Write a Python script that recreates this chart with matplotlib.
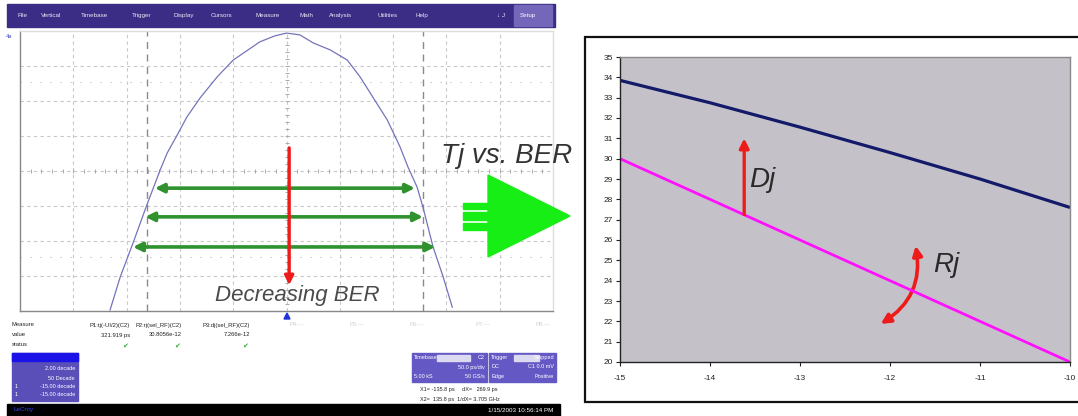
import numpy as np
import matplotlib.pyplot as plt
from matplotlib.patches import Rectangle, Polygon, FancyArrowPatch

# ---- right chart: jitter (ps) vs log10(BER) ----
log_ber = [-15, -14, -13, -12, -11, -10]
tj_ps = [33.85, 32.75, 31.55, 30.3, 29.0, 27.6]
rj_ps = [30.0, 28.0, 26.0, 24.0, 22.0, 20.0]
y_ticks = list(range(20, 36))

# ---- scope trace (histogram-like), in screen divisions ----
scope_x = [1.69, 1.88, 2.12, 2.38, 2.63, 2.76, 2.95, 3.13, 3.38, 3.70, 4.00, 4.50, 4.78, 5.00,
           5.25, 5.50, 5.82, 6.14, 6.38, 6.62, 6.89, 7.13, 7.28, 7.45, 7.56, 7.75, 7.94, 8.11]
scope_y = [0.03, 0.97, 1.94, 3.03, 4.03, 4.51, 5.03, 5.54, 6.09, 6.69, 7.17, 7.69, 7.86, 7.94,
           7.89, 7.66, 7.46, 7.17, 6.69, 6.11, 5.46, 4.69, 4.11, 3.54, 2.97, 1.83, 0.97, 0.11]

# eye opening arrows: level, left end, right end (divisions)
eye_level = [3.51, 2.69, 1.83]
eye_left = [2.53, 2.35, 2.12]
eye_right = [7.41, 7.56, 7.79]
cursor_x = [2.38, 7.56]

menu_items = ["File", "Vertical", "Timebase", "Trigger", "Display", "Cursors",
              "Measure", "Math", "Analysis", "Utilities", "Help"]
menu_x = [17, 41, 81, 132, 173, 211, 255, 299, 329, 377, 416]

W, H = 1078, 416
plt.rcParams['font.family'] = ['Liberation Sans', 'DejaVu Sans']
plt.rcParams['axes.unicode_minus'] = False
fig = plt.figure(figsize=(W / 100, H / 100), dpi=100)

# background layer in pixel coordinates
bg = fig.add_axes([0, 0, 1, 1], zorder=0)
bg.set_xlim(0, W)
bg.set_ylim(H, 0)
bg.axis('off')

# menu bar
bg.add_patch(Rectangle((7, 4), 548, 23, color='#3b2d86'))
bg.add_patch(Rectangle((514, 5), 38, 21, color='#7466b8'))
for name, mx in zip(menu_items, menu_x):
    bg.text(mx, 15.5, name, color='#e8e6f5', fontsize=4.5, va='center')
bg.text(497, 15.5, "\u2193 J", color='#e8e6f5', fontsize=4.5, va='center')
bg.text(520, 15.5, "Setup", color='#ffffff', fontsize=4.5, va='center')
bg.text(6, 36, "4a", color='#3344bb', fontsize=4, va='center')

# measurement table
bg.text(12, 325, "Measure", fontsize=4.2, va='center', color='#222')
bg.text(12, 335, "value", fontsize=4.2, va='center', color='#222')
bg.text(12, 345, "status", fontsize=4.2, va='center', color='#222')
for xr, head, val in [(130, "P1:tj(-UI/2)(C2)", "321.919 ps"),
                      (182, "P2:rj(sel_RF)(C2)", "30.8056e-12"),
                      (250, "P3:dj(sel_RF)(C2)", "7.266e-12")]:
    bg.text(xr, 325, head, fontsize=4.2, ha='right', va='center', color='#222')
    bg.text(xr, 335, val, fontsize=4.2, ha='right', va='center', color='#222')
    bg.text(xr - 5, 346, "\u2714", fontsize=5, ha='center', va='center', color='#33aa33')
for xp, lab in zip([290, 350, 410, 475, 535], ["P4:---", "P5:---", "P6:---", "P7:---", "P8:---"]):
    bg.text(xp, 325, lab, fontsize=4.2, va='center', color='#d0d0d0')

# left blue panel
bg.add_patch(Rectangle((12, 353), 66, 48, color='#5a4fb8'))
bg.add_patch(Rectangle((12, 353), 66, 8, color='#1a12e6'))
for yy, txt in zip([369, 378, 386, 395], ["2.00 decade", "50 Decade", "-15.00 decade", "-15.00 decade"]):
    bg.text(75, yy, txt, fontsize=4, ha='right', va='center', color='#ffffff')
bg.text(15, 386, "1", fontsize=4, va='center', color='#ffffff')
bg.text(15, 395, "1", fontsize=4, va='center', color='#ffffff')

# timebase / trigger panels
for x0, w, rows in [(412, 75, [("Timebase", "C2"), ("", "50.0 ps/div"), ("5.00 kS", "50 GS/s")]),
                    (489, 67, [("Trigger", "Stopped"), ("DC", "C1 0.0 mV"), ("Edge", "Positive")])]:
    bg.add_patch(Rectangle((x0, 353), w, 29, color='#6458c4'))
    bg.add_patch(Rectangle((x0 + 25, 354.5), w - 42, 6, color='#dcdaf0'))
    for i, (lt, rt) in enumerate(rows):
        yy = 357.5 + i * 9.5
        bg.text(x0 + 2, yy, lt, fontsize=4, va='center', color='#ffffff')
        bg.text(x0 + w - 2, yy, rt, fontsize=4, ha='right', va='center', color='#ffffff')
bg.text(420, 389, "X1= -135.8 ps     dX=   269.9 ps", fontsize=4, va='center', color='#222')
bg.text(420, 399, "X2=  135.8 ps  1/dX= 3.705 GHz", fontsize=4, va='center', color='#222')

# status bar
bg.add_patch(Rectangle((7, 404), 553, 12, color='#000000'))
bg.text(14, 410, "LeCroy", fontsize=4.5, va='center', color='#3344ff')
bg.text(553, 410, "1/15/2003 10:56:14 PM", fontsize=4.5, ha='right', va='center', color='#ffffff')
bg.add_patch(Polygon([(284, 319), (290, 319), (287, 313)], color='#2233dd'))

# white box around the right chart
bg.add_patch(Rectangle((585, 37), 520, 365, facecolor='white', edgecolor='#111111', lw=1.6))

# ---- scope screen ----
sc = fig.add_axes([20 / W, 1 - 311 / H, 533 / W, 280 / H], zorder=1)
sc.set_xlim(0, 10)
sc.set_ylim(0, 8)
sc.set_xticks([])
sc.set_yticks([])
for v in range(1, 10):
    sc.axvline(v, color='#c8c8c8', lw=0.8, ls=(0, (3, 3)))
for h in range(1, 8):
    sc.axhline(h, color='#c8c8c8', lw=0.8, ls=(0, (3, 3)))
for h in [6.54, 1.54]:
    sc.axhline(h, color='#b8b8b8', lw=0.8, ls=(0, (1, 8)))
for cx in cursor_x:
    sc.axvline(cx, color='#8a8a8a', lw=1.0, ls=(0, (5, 4)))
minor = np.arange(0.2, 8, 0.2)
sc.plot(np.full_like(minor, 5.0), minor, ls='none', marker='_', ms=3, color='#aaaaaa', mew=0.7)
minor_x = np.arange(0.2, 10, 0.2)
sc.plot(minor_x, np.full_like(minor_x, 4.0), ls='none', marker='|', ms=3, color='#aaaaaa', mew=0.7)
for side, sp in sc.spines.items():
    sp.set_color('#888888' if side in ('left', 'bottom') else '#dddddd')
    sp.set_linewidth(1.0)
sc.plot(scope_x, scope_y, color='#7474bc', lw=0.9, solid_joinstyle='round')

green = '#2f922f'
for lvl, xl, xr in zip(eye_level, eye_left, eye_right):
    sc.annotate('', xy=(xl, lvl), xytext=(xr, lvl),
                arrowprops=dict(arrowstyle='<|-|>', color=green, lw=2.6,
                                mutation_scale=13, shrinkA=0, shrinkB=0))
sc.annotate('', xy=(5.05, 0.74), xytext=(5.05, 4.66),
            arrowprops=dict(arrowstyle='-|>', color='#ee1b1b', lw=2.4,
                            mutation_scale=13, shrinkA=0, shrinkB=0))
sc.text(3.65, 0.3, "Decreasing BER", fontsize=16, style='italic', color='#4a4a4a')

# ---- right chart ----
ax = fig.add_axes([620 / W, 1 - 362 / H, 450 / W, 305 / H], zorder=1)
ax.set_facecolor('#c4c2c8')
ax.plot(log_ber, tj_ps, color='#141a6a', lw=2.3, solid_capstyle='butt')
ax.plot(log_ber, rj_ps, color='#ff10ff', lw=2.0, solid_capstyle='butt')
ax.set_xlim(-15, -10)
ax.set_ylim(20, 35)
ax.set_yticks(y_ticks)
ax.set_xticks(log_ber)
ax.tick_params(labelsize=6, length=3, width=0.8, colors='#222222', pad=2)
ax.tick_params(axis='x', pad=6)
for side, sp in ax.spines.items():
    sp.set_color('#222222' if side in ('left', 'bottom') else '#8a8a8a')
    sp.set_linewidth(1.0)

red = '#ee1b1b'
ax.annotate('', xy=(-13.62, 31.0), xytext=(-13.62, 27.25),
            arrowprops=dict(arrowstyle='-|>', color=red, lw=2.4,
                            mutation_scale=14, shrinkA=0, shrinkB=0))
ax.text(-13.57, 28.95, "Dj", fontsize=20, style='italic', color='#2a2a2a', va='center')
ax.add_patch(FancyArrowPatch((-12.13, 21.8), (-11.72, 25.85),
                             connectionstyle='arc3,rad=0.35', arrowstyle='<|-|>',
                             mutation_scale=14, color=red, lw=2.6))
ax.text(-11.52, 24.75, "Rj", fontsize=20, style='italic', color='#2a2a2a', va='center')

# ---- overlay: title and big arrow between the panels ----
ov = fig.add_axes([0, 0, 1, 1], zorder=5)
ov.set_xlim(0, W)
ov.set_ylim(H, 0)
ov.axis('off')
ov.patch.set_alpha(0)
ov.text(441, 163, "Tj vs. BER", fontsize=20, style='italic', color='#333333', va='baseline')
lime = '#16ee16'
ov.add_patch(Polygon([(488, 175), (488, 257), (570, 216)], color=lime))
for y0, y1 in [(203, 209), (212, 220), (223, 230)]:
    ov.add_patch(Rectangle((463, y0), 26, y1 - y0, color=lime))

fig.savefig('out.png', dpi=100)
